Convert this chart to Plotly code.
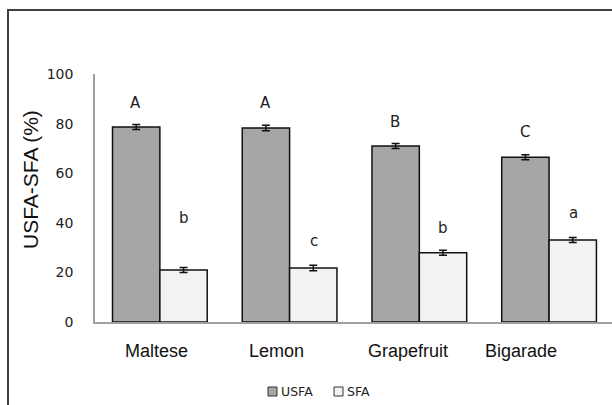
import plotly.graph_objects as go

# Fatty acid composition of four citrus seed oils
varieties = ["Maltese", "Lemon", "Grapefruit", "Bigarade"]
usfa = [78.6, 78.2, 71.0, 66.4]
usfa_err = [1.0, 1.1, 1.0, 1.0]
sfa = [21.0, 21.8, 27.9, 33.1]
sfa_err = [1.0, 1.1, 1.0, 1.0]

# Significance letters and the heights they sit at
usfa_letters = ["A", "A", "B", "C"]
usfa_letter_y = [88.3, 88.3, 80.6, 76.6]
sfa_letters = ["b", "c", "b", "a"]
sfa_letter_y = [41.9, 32.7, 37.9, 44.0]

y_ticks = [0, 20, 40, 60, 80, 100]

series_names = ["USFA", "SFA"]
series_colors = ["#a6a6a6", "#f2f2f2"]

W, H = 612, 405
L, R, T, B = 95, 0, 74, 83
plot_w = W - L - R
plot_h = H - T - B


def px_x(p):
    """pixel column -> paper x"""
    return (p - L) / plot_w


def px_y(p):
    """pixel row -> paper y"""
    return (T + plot_h - p) / plot_h


num_font = "DejaVu Sans, Verdana, sans-serif"
lab_font = "Liberation Sans, Arial, sans-serif"

fig = go.Figure()
for name, vals, errs, col in zip(series_names, [usfa, sfa], [usfa_err, sfa_err], series_colors):
    fig.add_trace(go.Bar(
        name=name, x=varieties, y=vals,
        marker=dict(color=col, line=dict(color="#111111", width=1.5)),
        error_y=dict(type="data", array=errs, color="#111111", thickness=1.5, width=4),
    ))

annotations = []
# letters over each bar (USFA left half, SFA right half of the group)
for i, v in enumerate(varieties):
    annotations.append(dict(x=v, y=usfa_letter_y[i], text=usfa_letters[i], showarrow=False,
                            xref="x", yref="y", xshift=-24,
                            font=dict(family=num_font, size=15, color="#222222")))
    annotations.append(dict(x=v, y=sfa_letter_y[i], text=sfa_letters[i], showarrow=False,
                            xref="x", yref="y", xshift=24,
                            font=dict(family=num_font, size=15, color="#222222")))

# category names under the axis
label_shift = [-3, -13, -11, -28]
for i, v in enumerate(varieties):
    annotations.append(dict(x=v, y=0, xref="x", yref="paper", yanchor="middle",
                            yshift=-29, xshift=label_shift[i], text=v, showarrow=False,
                            font=dict(family=lab_font, size=18, color="#111111")))

# y-axis title
annotations.append(dict(x=px_x(30), y=px_y(180), xref="paper", yref="paper",
                        text="USFA-SFA (%)", textangle=-90,
                        showarrow=False, xanchor="center", yanchor="middle",
                        font=dict(family=lab_font, size=21, color="#111111")))

# outer frame of the figure
shapes = [dict(type="rect", xref="paper", yref="paper",
               x0=px_x(8), x1=px_x(W + 20), y0=px_y(H + 20), y1=px_y(10),
               line=dict(color="#404040", width=2), fillcolor="rgba(0,0,0,0)", layer="above")]

# compact legend: small swatch followed by the series name
legend_x = [268, 334]
for name, col, lx in zip(series_names, series_colors, legend_x):
    shapes.append(dict(type="rect", xref="paper", yref="paper",
                       x0=px_x(lx), x1=px_x(lx + 9), y0=px_y(396), y1=px_y(387),
                       line=dict(color="#333333", width=1), fillcolor=col))
    annotations.append(dict(x=px_x(lx + 11), y=px_y(391.5), xref="paper", yref="paper",
                            text=name, showarrow=False, xanchor="left", yanchor="middle",
                            font=dict(family=num_font, size=12.5, color="#222222")))

fig.update_layout(
    width=W, height=H,
    margin=dict(l=L, r=R, t=T, b=B, pad=0),
    paper_bgcolor="white", plot_bgcolor="white",
    barmode="group", bargap=0.27, bargroupgap=0,
    showlegend=False,
    annotations=annotations,
    shapes=shapes,
    xaxis=dict(range=[-0.5, 3.485], showticklabels=False, ticks="", showgrid=False,
               showline=True, linecolor="#a0a0a0", linewidth=1.5, zeroline=False),
    yaxis=dict(range=[0, 100], tickvals=y_ticks, ticks="", showgrid=False,
               showline=True, linecolor="#a0a0a0", linewidth=1.5, zeroline=False,
               ticklabelstandoff=17,
               tickfont=dict(family=num_font, size=14, color="#222222")),
)

fig.write_html("out.html")
